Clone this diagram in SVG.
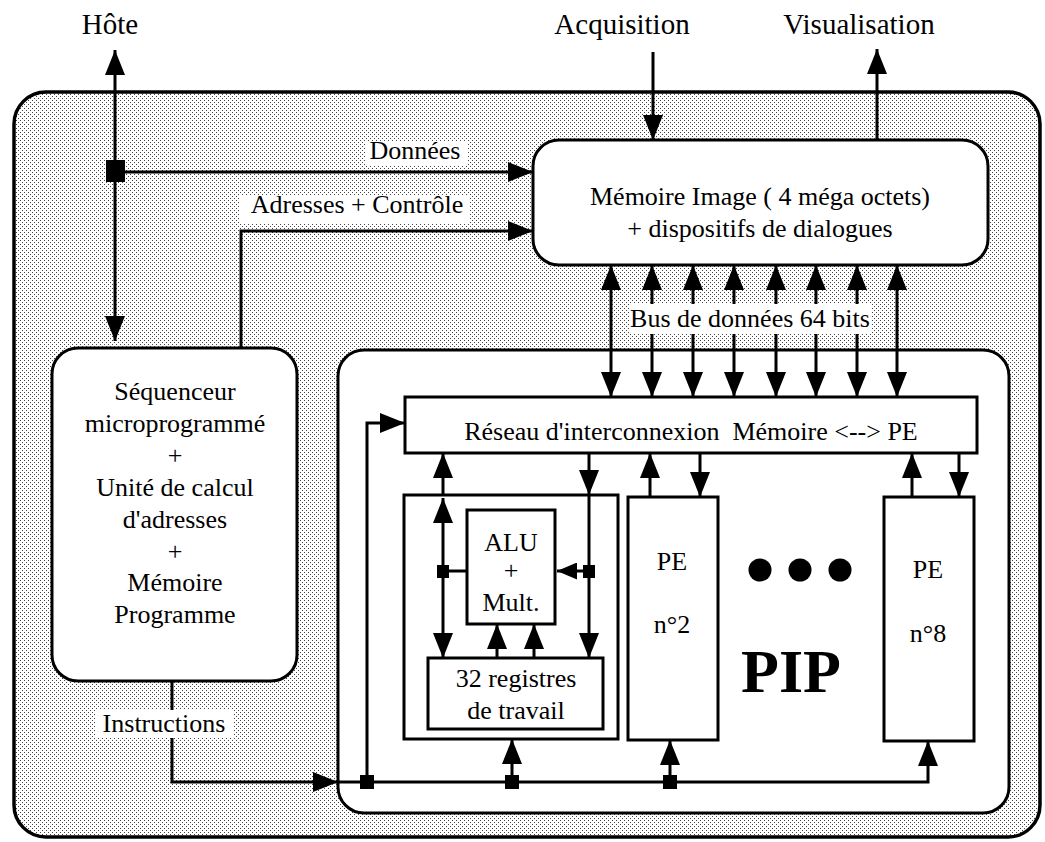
<svg xmlns="http://www.w3.org/2000/svg" width="1045" height="842" viewBox="0 0 1045 842">
<defs>
<pattern id="stipple" width="4" height="4" patternUnits="userSpaceOnUse">
<rect width="4" height="4" fill="#ffffff"/>
<rect x="0" y="0" width="1" height="1" fill="#444"/>
<rect x="2" y="2" width="1" height="1" fill="#444"/>
</pattern>
<marker id="ah" viewBox="0 0 25 20" refX="25" refY="10" markerWidth="25" markerHeight="20" markerUnits="userSpaceOnUse" orient="auto-start-reverse">
<path d="M0,0 L25,10 L0,20 z" fill="#000"/>
</marker>
<marker id="ahs" viewBox="0 0 20 17" refX="20" refY="8.5" markerWidth="20" markerHeight="17" markerUnits="userSpaceOnUse" orient="auto-start-reverse">
<path d="M0,0 L20,8.5 L0,17 z" fill="#000"/>
</marker>
</defs>
<style>
.box{fill:#fff;stroke:#000;stroke-width:3}
.ln{fill:none;stroke:#000;stroke-width:3}
.a{marker-end:url(#ah)}
.aa{marker-start:url(#ah);marker-end:url(#ah)}
.as{marker-end:url(#ahs)}
.t{font-family:"Liberation Serif","Times New Roman",serif;font-size:26px;text-anchor:middle;fill:#000}
.big{font-size:29px}
.pip{font-size:62px;font-weight:bold}
.bg{fill:#fff}
.sq{fill:#000}
</style>
<rect width="1045" height="842" fill="#fff"/>

<g id="system">
<rect x="14" y="92" width="1026" height="745" rx="32" ry="32" fill="url(#stipple)" stroke="#000" stroke-width="3.5"/>
</g>

<g id="top-labels">
<text class="t big" x="110" y="34">Hôte</text>
<text class="t big" x="622" y="34">Acquisition</text>
<text class="t big" x="859" y="34">Visualisation</text>
</g>

<g id="memory">
<rect class="box" x="533" y="140" width="455" height="125" rx="26" ry="26"/>
<text class="t" x="760" y="205">Mémoire Image ( 4 méga octets)</text>
<text class="t" x="760" y="237">+ dispositifs de dialogues</text>
</g>

<g id="sequencer">
<rect class="box" x="52" y="348" width="245" height="333" rx="26" ry="26"/>
<text class="t" x="175" y="400">Séquenceur</text>
<text class="t" x="175" y="432">microprogrammé</text>
<text class="t" x="175" y="464">+</text>
<text class="t" x="175" y="496">Unité de calcul</text>
<text class="t" x="175" y="528">d'adresses</text>
<text class="t" x="175" y="560">+</text>
<text class="t" x="175" y="591">Mémoire</text>
<text class="t" x="175" y="623">Programme</text>
</g>

<g id="pip">
<rect class="box" x="338" y="350" width="671" height="463" rx="26" ry="26"/>
<text class="t pip" x="791" y="692">PIP</text>
<circle cx="760" cy="570" r="11.5" fill="#000"/>
<circle cx="800" cy="570" r="11.5" fill="#000"/>
<circle cx="840" cy="570" r="11.5" fill="#000"/>
</g>

<g id="network">
<rect class="box" x="405" y="397" width="572" height="56"/>
<text class="t" x="691" y="440" xml:space="preserve">Réseau d'interconnexion  Mémoire &lt;--&gt; PE</text>
</g>

<g id="pe1">
<rect class="box" x="404" y="495" width="214" height="244"/>
</g>

<g id="alu">
<rect class="box" x="467" y="510" width="88" height="114"/>
<text class="t" x="511" y="551">ALU</text>
<text class="t" x="511" y="579">+</text>
<text class="t" x="511" y="611">Mult.</text>
</g>

<g id="registers">
<rect class="box" x="428" y="658" width="175" height="71"/>
<text class="t" x="516" y="687">32 registres</text>
<text class="t" x="516" y="719">de travail</text>
</g>

<g id="pe2">
<rect class="box" x="628" y="497" width="90" height="243"/>
<text class="t" x="672" y="570">PE</text>
<text class="t" x="672" y="633">n°2</text>
</g>

<g id="pe8">
<rect class="box" x="884" y="497" width="90" height="244"/>
<text class="t" x="928" y="578">PE</text>
<text class="t" x="928" y="642">n°8</text>
</g>

<g id="connectors">
<path class="ln aa" d="M115,341 V50"/>
<rect class="sq" x="106" y="160" width="19" height="22"/>
<path class="ln a" d="M115,172 H533"/>
<path class="ln a" d="M241,348 V231 H533"/>
<path class="ln a" d="M653,52 V140"/>
<path class="ln a" d="M877,140 V49"/>
<path class="ln aa" d="M611,265 V397"/>
<path class="ln aa" d="M652,265 V397"/>
<path class="ln aa" d="M693,265 V397"/>
<path class="ln aa" d="M734,265 V397"/>
<path class="ln aa" d="M776,265 V397"/>
<path class="ln aa" d="M816,265 V397"/>
<path class="ln aa" d="M857,265 V397"/>
<path class="ln aa" d="M897,265 V397"/>
<path class="ln" d="M172,681 V712"/>
<path class="ln a" d="M172,736 V782 H338"/>
<path class="ln a" d="M338,782 H928 V741"/>
<path class="ln a" d="M367,782 V423 H405"/>
<rect class="sq" x="360" y="775" width="14" height="14"/>
<path class="ln a" d="M512,782 V739"/>
<rect class="sq" x="505" y="775" width="14" height="14"/>
<path class="ln a" d="M670,782 V740"/>
<rect class="sq" x="663" y="775" width="14" height="14"/>
<path class="ln a" d="M443,495 V453"/>
<path class="ln aa" d="M443,498 V658"/>
<rect class="sq" x="437" y="565" width="12" height="13"/>
<path class="ln" d="M443,571 H467"/>
<path class="ln a" d="M589,453 V495"/>
<path class="ln a" d="M589,495 V658"/>
<rect class="sq" x="583" y="565" width="12" height="13"/>
<path class="ln as" d="M589,571 H557"/>
<path class="ln a" d="M497,658 V624"/>
<path class="ln a" d="M534,658 V624"/>
<path class="ln a" d="M650,497 V453"/>
<path class="ln a" d="M700,453 V497"/>
<path class="ln a" d="M912,497 V453"/>
<path class="ln a" d="M959,453 V497"/>
</g>

<g id="connector-labels">
<rect class="bg" x="365" y="141" width="102" height="25"/>
<text class="t" x="415" y="159">Données</text>
<rect class="bg" x="240" y="196" width="230" height="27"/>
<text class="t" x="357" y="213">Adresses + Contrôle</text>
<rect class="bg" x="629" y="304" width="243" height="30"/>
<text class="t" x="750" y="327">Bus de données 64 bits</text>
<rect class="bg" x="96" y="710" width="138" height="28"/>
<text class="t" x="164" y="732">Instructions</text>
</g>
</svg>
